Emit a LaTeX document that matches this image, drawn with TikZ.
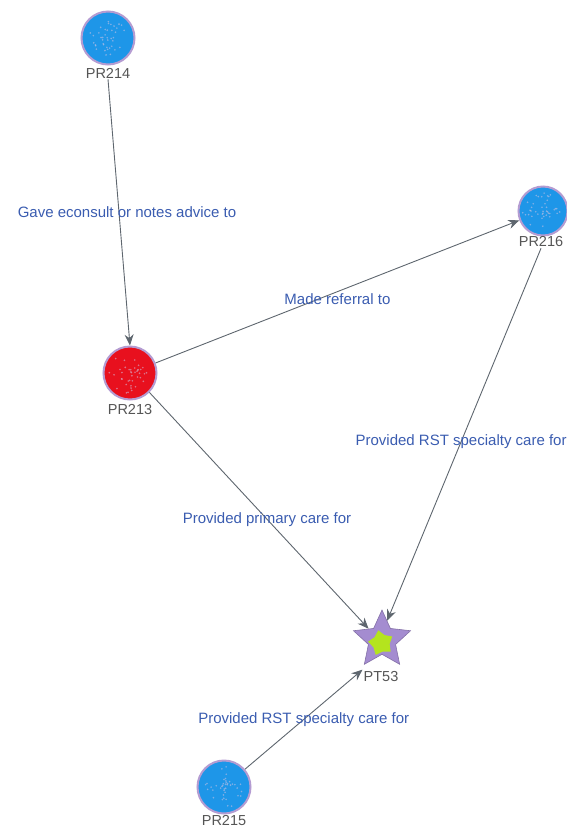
\documentclass[tikz,border=0pt]{standalone}
\usepackage{fontspec}
\setmainfont{Liberation Sans}
\usetikzlibrary{shapes.geometric,arrows.meta}
\definecolor{nodeblue}{HTML}{1E96E8}
\definecolor{nodered}{HTML}{E8101E}
\definecolor{rim}{HTML}{B49CD2}
\definecolor{starfill}{HTML}{A48CD0}
\definecolor{stargreen}{HTML}{B4E41E}
\definecolor{edgegray}{HTML}{5E666E}
\definecolor{labelblue}{HTML}{3A5CB0}
\definecolor{namegray}{HTML}{555555}
\begin{document}
\begin{tikzpicture}[x=1pt,y=-1pt,
  personnode/.style={circle,draw=rim,line width=2pt,minimum size=53pt,inner sep=0pt},
  nodename/.style={text=namegray,font=\fontsize{14.5}{14.5}\selectfont,inner sep=1pt},
  relarrow/.style={draw=edgegray,line width=0.9pt,-{Stealth[length=11pt,width=9pt]}},
  rellabel/.style={text=labelblue,font=\fontsize{15}{15}\selectfont,inner sep=0pt}]
\useasboundingbox (0,0) rectangle (567,828);
% nodes
\node[personnode,fill=nodeblue] (pr214) at (108,38) {};
\node[nodename] (pr214l) at (108,73) {PR214};
\node[personnode,fill=nodered] (pr213) at (130,373) {};
\node[nodename] (pr213l) at (130,410) {PR213};
\node[personnode,fill=nodeblue,minimum size=49pt] (pr216) at (543,211) {};
\node[nodename] (pr216l) at (541,242) {PR216};
\node[star,star points=5,star point ratio=2.1,draw=starfill!80!black,line width=0.6pt,fill=starfill,minimum size=60pt,inner sep=0pt] (pt53) at (382,640) {};
\node[star,star points=5,star point ratio=1.5,fill=stargreen,minimum size=26pt,inner sep=0pt,rotate=12] (pt53c) at (381,643) {};
\node[nodename] (pt53l) at (381,676) {PT53};
\node[personnode,fill=nodeblue] (pr215) at (224,787) {};
\node[nodename] (pr215l) at (224,820) {PR215};
% speckles
\foreach \c in {pr214,pr213,pr216,pr215}{
  \foreach \i in {1,...,40}{
    \fill[rim!60!white,opacity=0.55] (\c) ++({rnd*360}:{rnd*21pt}) circle (0.9pt);
  }
}
% edges
\draw[relarrow] (pr214l.south) -- (pr213.north) node[midway,rellabel,xshift=8pt] {Gave econsult or notes advice to};
\draw[relarrow] (pr213) -- (pr216) node[midway,rellabel,yshift=-7pt] {Made referral to};
\draw[relarrow] (pr213.-45) -- (pt53.140) node[midway,rellabel,xshift=8pt,yshift=-9pt] {Provided primary care for};
\draw[relarrow] (pr216l.south) -- (pt53.75) node[midway,rellabel,yshift=-7pt,xshift=-3pt] {Provided RST specialty care for};
\draw[relarrow] (pr215) -- (pt53l.north west) node[midway,rellabel] {Provided RST specialty care for};
\end{tikzpicture}
\end{document}
